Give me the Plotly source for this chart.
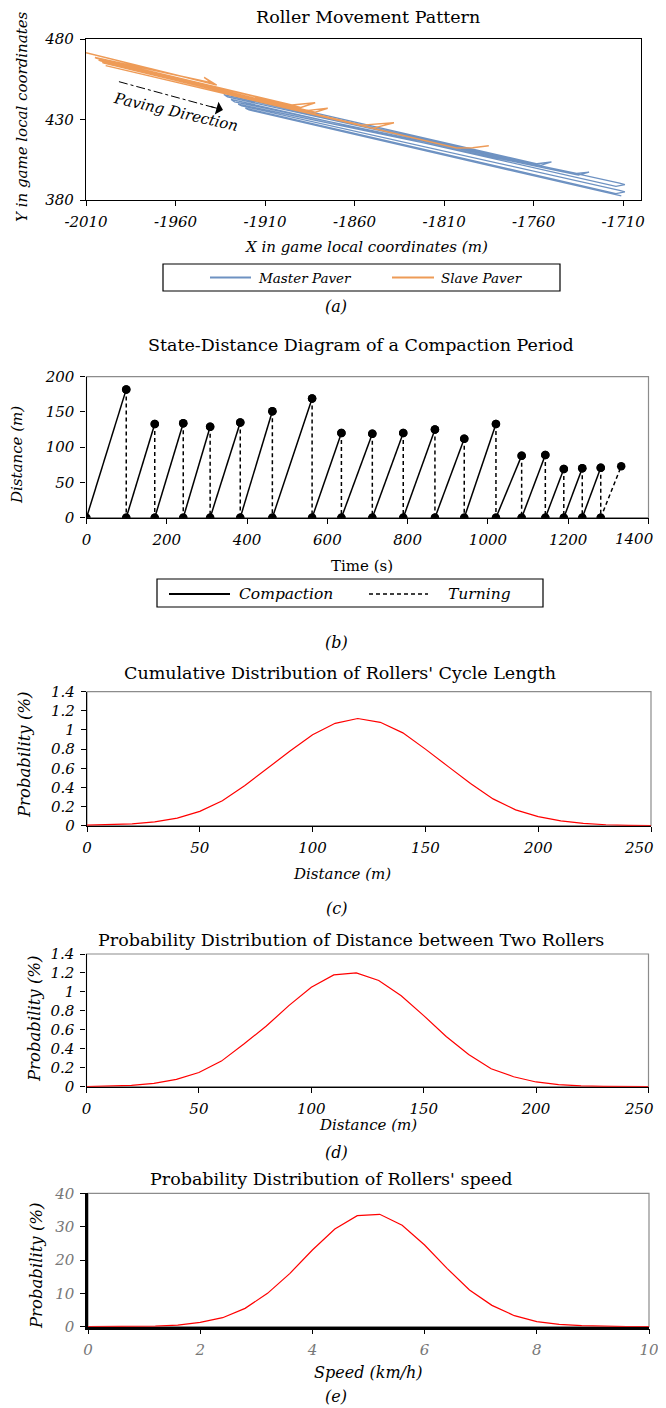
import plotly.graph_objects as go

# page body keeps an 8px margin, so the figure is drawn 8px in from the window's top-left
OFF = 8
WIN_W, WIN_H = 666, 1408
W, H = WIN_W - OFF, WIN_H - OFF
FONT = "DejaVu Serif"

# ---------------- Panel (a): roller movement pattern ----------------
master_x = [-1935, -1758, -1750, -1756, -1933, -1931, -1712, -1709, -1714, -1929, -1927, -1736,
            -1729, -1735, -1925, -1923, -1712, -1709, -1714, -1921, -1919, -1711]
master_y = [447.5, 402.5, 403.6, 401.5, 445.5, 444.0, 390.5, 389.5, 388.5, 442.5, 441.0, 396.5,
            397.3, 395.5, 439.5, 438.5, 386.0, 385.0, 384.0, 437.0, 436.0, 382.5]
slave_x = [-2010, -1937, -1944, -1940, -2005, -2004, -1895, -1882, -1890, -2003, -2002, -1887,
           -1875, -1882, -2001, -2000, -1856, -1838, -1850, -1999, -1998, -1803, -1794, -1785]
slave_y = [471.5, 451.4, 456.2, 452.8, 468.5, 468.0, 439.0, 440.4, 437.5, 467.0, 466.5, 435.5,
           437.0, 434.5, 465.5, 465.0, 426.5, 428.0, 424.5, 463.5, 463.0, 412.3, 412.5, 413.7]
a_xticks = [-2010, -1960, -1910, -1860, -1810, -1760, -1710]
a_xticklabels = ["-2010", "-1960", "-1910", "-1860", "-1810", "-1760", "-1710"]
a_yticks = [380, 430, 480]
arrow_start = (-1991.6, 453.5)
arrow_tip = (-1933.5, 435.9)
arrow_text_pos = (-1960.0, 434.5)

# ---------------- Panel (b): state-distance diagram ----------------
cycle_times = [0, 99, 170, 241, 308, 383, 463, 562, 635, 712, 789, 868, 941, 1020, 1084, 1143,
               1189, 1235, 1281, 1332]
peak_dist = [182, 133, 134, 129, 135, 151, 169, 120, 119, 120, 125, 112, 133, 88, 89, 69, 70, 71, 73]
cycle_state = ["Compaction"] * 18 + ["Turning"]
b_xticks = [0, 200, 400, 600, 800, 1000, 1200, 1400]

# ---------------- Panel (c): cycle length ----------------
c_dist = [0, 10, 20, 30, 40, 50, 60, 70, 80, 90, 100, 110, 120, 130, 140, 150, 160, 170, 180, 190,
          200, 210, 220, 230, 240, 250]
c_prob = [0.005, 0.01, 0.02, 0.04, 0.08, 0.15, 0.26, 0.42, 0.60, 0.78, 0.95, 1.07, 1.12, 1.08, 0.97,
          0.80, 0.62, 0.44, 0.28, 0.165, 0.095, 0.05, 0.025, 0.01, 0.004, 0.001]
cd_xticks = [0, 50, 100, 150, 200, 250]

# ---------------- Panel (d): distance between rollers ----------------
d_dist = [0, 10, 20, 30, 40, 50, 60, 70, 80, 90, 100, 110, 120, 130, 140, 150, 160, 170, 180, 190,
          200, 210, 220, 230, 240, 250]
d_prob = [0.001, 0.005, 0.015, 0.035, 0.077, 0.15, 0.27, 0.45, 0.64, 0.855, 1.05, 1.18, 1.20, 1.12,
          0.96, 0.75, 0.53, 0.34, 0.19, 0.105, 0.05, 0.022, 0.009, 0.004, 0.001, 0.0]

# ---------------- Panel (e): speed ----------------
e_speed = [0, 0.4, 0.8, 1.2, 1.6, 2.0, 2.4, 2.8, 3.2, 3.6, 4.0, 4.4, 4.8, 5.2, 5.6, 6.0, 6.4, 6.8,
           7.2, 7.6, 8.0, 8.4, 8.8, 9.2, 9.6, 10.0]
e_prob = [0.0, 0.01, 0.05, 0.2, 0.5, 1.3, 2.7, 5.5, 10.0, 16.0, 23.0, 29.3, 33.3, 33.7, 30.4, 24.5,
          17.5, 11.0, 6.4, 3.3, 1.5, 0.7, 0.3, 0.1, 0.03, 0.01]

BLUE = "#6E92C2"
ORANGE = "#EE9B57"


def px(x):
    return (x - OFF) / W


def py(y):
    return 1 - (y - OFF) / H


def xd(a, b):
    return [px(a), px(b)]


def yd(top, bottom):
    return [py(bottom), py(top)]


fig = go.Figure()

fig.add_trace(go.Scatter(x=master_x, y=master_y, mode="lines", name="Master Paver",
                         line=dict(color=BLUE, width=1.3), xaxis="x", yaxis="y"))
fig.add_trace(go.Scatter(x=slave_x, y=slave_y, mode="lines", name="Slave Paver",
                         line=dict(color=ORANGE, width=1.4), xaxis="x", yaxis="y"))

comp_x, comp_y, turn_x, turn_y = [], [], [], []
for i, d in enumerate(peak_dist):
    t0, t1 = cycle_times[i], cycle_times[i + 1]
    if cycle_state[i] == "Compaction":
        comp_x += [t0, t1, None]
        comp_y += [0, d, None]
        turn_x += [t1, t1, None]
        turn_y += [d, 0, None]
    else:
        turn_x += [t0, t1, None]
        turn_y += [0, d, None]
fig.add_trace(go.Scatter(x=turn_x, y=turn_y, mode="lines+markers", name="Turning",
                         line=dict(color="black", width=1.5, dash="4px,3px"),
                         marker=dict(color="black", size=8.5), xaxis="x2", yaxis="y2"))
fig.add_trace(go.Scatter(x=comp_x, y=comp_y, mode="lines+markers", name="Compaction",
                         line=dict(color="black", width=1.5),
                         marker=dict(color="black", size=8.5), xaxis="x2", yaxis="y2"))

fig.add_trace(go.Scatter(x=c_dist, y=c_prob, mode="lines", line=dict(color="#FF0000", width=1.2),
                         xaxis="x3", yaxis="y3", name="c"))
fig.add_trace(go.Scatter(x=d_dist, y=d_prob, mode="lines", line=dict(color="#FF0000", width=1.2),
                         xaxis="x4", yaxis="y4", name="d"))
fig.add_trace(go.Scatter(x=e_speed, y=e_prob, mode="lines", line=dict(color="#FF0000", width=1.2),
                         xaxis="x5", yaxis="y5", name="e"))

tickfont = dict(family=FONT, size=15, color="black", style="italic")
axis_common = dict(showgrid=False, zeroline=False, showline=True, linecolor="black", linewidth=1.2,
                   ticks="outside", ticklen=5, tickwidth=1, tickcolor="black", tickfont=tickfont,
                   ticklabelstandoff=3, automargin=False, ticklabeloverflow="allow")


def labels_but_last(vals):
    # the last label sits on the page edge; it is drawn separately, right-aligned
    return [str(v) for v in vals[:-1]] + [""]


fig.update_layout(
    width=W, height=H, autosize=False, showlegend=False,
    margin=dict(l=0, r=0, t=0, b=0, pad=0, autoexpand=False),
    paper_bgcolor="white", plot_bgcolor="white",
    font=dict(family=FONT, color="black"),
    xaxis=dict(domain=xd(86, 641), anchor="y", range=[-2010, -1700], tickvals=a_xticks,
               ticktext=a_xticklabels, mirror=True, **axis_common),
    yaxis=dict(domain=yd(39, 200), anchor="x", range=[380, 480], tickvals=a_yticks,
               mirror=True, **axis_common),
    xaxis2=dict(domain=xd(86.5, 648.5), anchor="y2", range=[0, 1400], tickvals=b_xticks,
                ticktext=labels_but_last(b_xticks), **axis_common),
    yaxis2=dict(domain=yd(376.7, 517.7), anchor="x2", range=[0, 200], dtick=50, **axis_common),
    xaxis3=dict(domain=xd(87, 651), anchor="y3", range=[0, 250], tickvals=cd_xticks,
                ticktext=labels_but_last(cd_xticks), **axis_common),
    yaxis3=dict(domain=yd(691.7, 825.7), anchor="x3", range=[0, 1.4], dtick=0.2, **axis_common),
    xaxis4=dict(domain=xd(86.5, 648.5), anchor="y4", range=[0, 250], tickvals=cd_xticks,
                ticktext=labels_but_last(cd_xticks), **axis_common),
    yaxis4=dict(domain=yd(954, 1086.7), anchor="x4", range=[0, 1.4], dtick=0.2, **axis_common),
)
e_axis = dict(axis_common)
e_axis.update(linewidth=2.5, tickfont=dict(family=FONT, size=15, color="#777777", style="italic"))
fig.update_layout(
    xaxis5=dict(domain=xd(88, 649), anchor="y5", range=[0, 10], dtick=2, **e_axis),
    yaxis5=dict(domain=yd(1193.3, 1326.7), anchor="x5", range=[0, 40], dtick=10, **e_axis),
)

shapes = []
for i in (2, 3, 4, 5):
    shapes.append(dict(type="rect", xref=f"x{i} domain", yref=f"y{i} domain", x0=0, x1=1, y0=0, y1=1,
                       line=dict(color="#8C8C8C", width=1.2), layer="below"))

shapes.append(dict(type="line", xref="x", yref="y", x0=arrow_start[0], y0=arrow_start[1],
                   x1=arrow_tip[0], y1=arrow_tip[1], line=dict(color="black", width=1, dash="dashdot")))

# legend (a)
shapes.append(dict(type="rect", xref="paper", yref="paper", x0=px(163), x1=px(560), y0=py(291), y1=py(264),
                   line=dict(color="black", width=1.2)))
shapes.append(dict(type="line", xref="paper", yref="paper", x0=px(210), x1=px(251), y0=py(277.5), y1=py(277.5),
                   line=dict(color=BLUE, width=2)))
shapes.append(dict(type="line", xref="paper", yref="paper", x0=px(392), x1=px(434), y0=py(277.5), y1=py(277.5),
                   line=dict(color=ORANGE, width=2)))
# legend (b)
shapes.append(dict(type="rect", xref="paper", yref="paper", x0=px(157), x1=px(543), y0=py(607), y1=py(579),
                   line=dict(color="black", width=1.2)))
shapes.append(dict(type="line", xref="paper", yref="paper", x0=px(169), x1=px(230), y0=py(594), y1=py(594),
                   line=dict(color="black", width=2)))
shapes.append(dict(type="line", xref="paper", yref="paper", x0=px(369), x1=px(428), y0=py(594), y1=py(594),
                   line=dict(color="black", width=1.5, dash="4px,3px")))
fig.update_layout(shapes=shapes)

ann = []


def text(t, x, y, size=15, italic=False, angle=0, xanchor="center", color="black"):
    ann.append(dict(text=t, x=px(x), y=py(y), xref="paper", yref="paper", showarrow=False,
                    xanchor=xanchor, yanchor="middle", textangle=angle,
                    font=dict(family=FONT, size=size, color=color, style="italic" if italic else "normal")))


text("Roller Movement Pattern", 368, 17, size=17.5)
text("State-Distance Diagram of a Compaction Period", 361, 345, size=17.5)
text("Cumulative Distribution of Rollers' Cycle Length", 340, 673, size=17.5)
text("Probability Distribution of Distance between Two Rollers", 351, 940, size=17.5)
text("Probability Distribution of Rollers' speed", 331, 1179, size=17.5)

text("X in game local coordinates (m)", 366, 247, italic=True)
text("Y in game local coordinates", 22, 117, italic=True, angle=-90)
text("Time (s)", 362, 566)
text("Distance (m)", 17, 455, italic=True, angle=-90)
text("Distance (m)", 342, 874, italic=True)
text("Probability (%)", 24, 755, italic=True, angle=-90, size=16.5)
text("Distance (m)", 368, 1125, italic=True)
text("Probability (%)", 34, 1019, italic=True, angle=-90, size=16.5)
text("Speed (km/h)", 368, 1372, italic=True, size=16)
text("Probability (%)", 36, 1266, italic=True, angle=-90, size=16.5)

# last x tick labels at the right page edge
text(str(b_xticks[-1]), 656, 539, italic=True, xanchor="right")
text(str(cd_xticks[-1]), 656, 848, italic=True, xanchor="right")
text(str(cd_xticks[-1]), 656, 1109, italic=True, xanchor="right")

for lab, yy in (("(a)", 307), ("(b)", 643), ("(c)", 908), ("(d)", 1152), ("(e)", 1396)):
    text(lab, 336, yy, italic=True, size=16)

text("Master Paver", 256, 277.5, size=13.5, italic=True, xanchor="left")
text("Slave Paver", 439, 277.5, size=13.5, italic=True, xanchor="left")
text("Compaction", 237, 594, size=15.5, italic=True, xanchor="left")
text("Turning", 446, 594, size=15.5, italic=True, xanchor="left")

ann.append(dict(text="Paving Direction", x=arrow_text_pos[0], y=arrow_text_pos[1], xref="x", yref="y",
                showarrow=False, textangle=13,
                font=dict(family=FONT, size=15, color="black", style="italic")))
ann.append(dict(text="", x=arrow_tip[0], y=arrow_tip[1], xref="x", yref="y", showarrow=True,
                ax=-14, ay=-4, arrowhead=1, arrowsize=2.2, arrowwidth=1, arrowcolor="black"))

fig.update_layout(annotations=ann)

fig.write_html("out.html")
